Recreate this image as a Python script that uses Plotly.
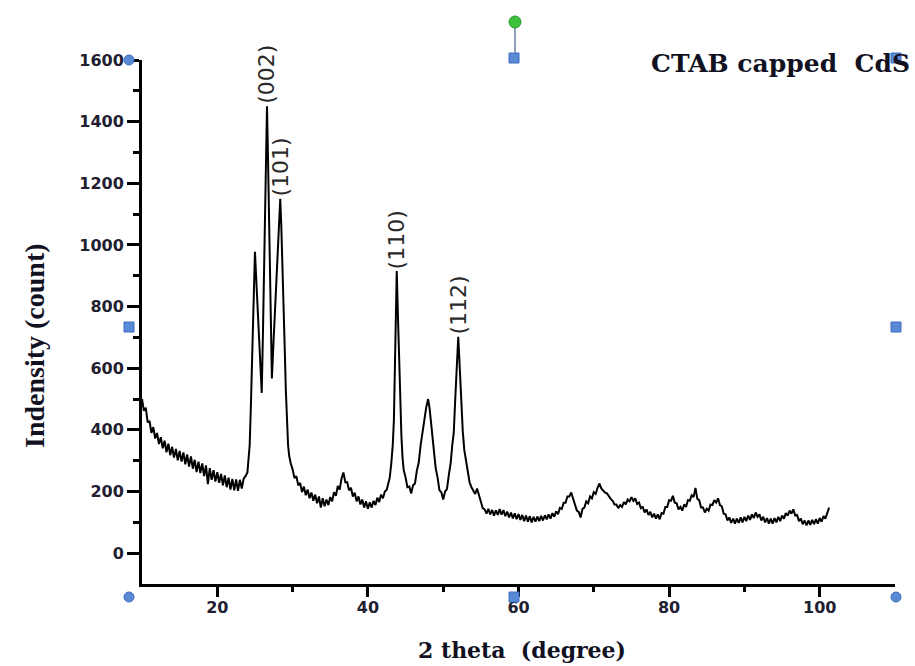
import plotly.graph_objects as go

theta_low = [10.0, 10.25, 10.5, 10.75, 11.0, 11.25, 11.5, 11.75, 12.0, 12.25,
             12.5, 12.75, 13.0, 13.25, 13.5, 13.75, 14.0, 14.25, 14.5, 14.75,
             15.0, 15.25, 15.5, 15.75, 16.0, 16.25, 16.5, 16.75, 17.0, 17.25,
             17.5, 17.75, 18.0, 18.25, 18.5, 18.75, 19.0, 19.25, 19.5, 19.75,
             20.0, 20.25, 20.5, 20.75, 21.0, 21.25, 21.5, 21.75, 22.0, 22.25,
             22.5, 22.75, 23.0, 23.25, 23.5, 23.75]
counts_low = [500, 462, 472, 424, 429, 390, 409, 372, 390, 354,
              376, 340, 365, 327, 355, 318, 345, 310, 338, 301,
              332, 297, 327, 288, 320, 281, 314, 274, 303, 263,
              297, 260, 291, 250, 285, 224, 276, 238, 269, 232,
              263, 228, 257, 220, 252, 214, 245, 206, 241, 204,
              239, 202, 238, 210, 242, 250]

theta_main = [24.0, 24.15, 24.3, 24.45, 24.6, 24.75, 24.9, 25.0, 25.15, 25.3,
              25.45, 25.6, 25.75, 25.9, 26.05, 26.2, 26.35, 26.5, 26.6, 26.75,
              26.9, 27.05, 27.15, 27.25, 27.4, 27.55, 27.7, 27.85, 28.0, 28.15,
              28.3, 28.36, 28.5, 28.65, 28.8, 28.95, 29.1, 29.25, 29.4, 29.55,
              29.7]
counts_main = [262, 300, 350, 470, 620, 780, 930, 978, 900, 820,
               745, 670, 595, 520, 700, 900, 1110, 1320, 1450, 1260,
               1050, 850, 700, 567, 650, 730, 810, 880, 950, 1040,
               1130, 1150, 1060, 950, 810, 670, 530, 420, 350, 315,
               295]

theta_mid = [29.75, 30.0, 30.25, 30.5, 30.75, 31.0, 31.25, 31.5, 31.75, 32.0,
             32.25, 32.5, 32.75, 33.0, 33.25, 33.5, 33.75, 34.0, 34.25, 34.5,
             34.75, 35.0, 35.25, 35.5, 35.75, 36.0, 36.25, 36.5, 36.75, 37.0,
             37.25, 37.5, 37.75, 38.0, 38.25, 38.5, 38.75, 39.0, 39.25, 39.5,
             39.75, 40.0, 40.25, 40.5, 40.75, 41.0, 41.25, 41.5, 41.75, 42.0,
             42.25, 42.5]
counts_mid = [292, 272, 244, 250, 220, 228, 198, 216, 188, 206,
              178, 197, 170, 190, 162, 184, 148, 178, 152, 174,
              156, 182, 168, 198, 186, 218, 206, 242, 262, 230,
              230, 204, 212, 184, 196, 168, 184, 158, 174, 148,
              168, 144, 165, 148, 170, 156, 180, 166, 190, 178,
              200, 206]

theta_110 = [42.7, 42.9, 43.1, 43.3, 43.45, 43.6, 43.83, 44.0, 44.15, 44.3,
             44.45, 44.6, 44.75]
counts_110 = [222, 245, 290, 350, 430, 620, 915, 760, 610, 480,
              380, 310, 270]

theta_hi = [45.0, 45.25, 45.5, 45.75, 46.0, 46.25, 46.5, 46.75, 47.0, 47.25,
            47.5, 47.75, 48.0, 48.2, 48.4, 48.6, 48.8, 49.0, 49.25, 49.5,
            49.75, 50.0, 50.25, 50.5, 50.75, 51.0, 51.2, 51.4, 51.6, 51.8,
            52.0, 52.2, 52.4, 52.6, 52.8, 53.0, 53.25, 53.5, 53.75, 54.0,
            54.25, 54.5, 54.75, 55.0, 55.25, 55.5, 55.75]
counts_hi = [246, 214, 216, 194, 220, 226, 268, 294, 350, 390,
             444, 474, 500, 468, 420, 368, 322, 276, 246, 204,
             198, 174, 200, 208, 254, 294, 350, 390, 500, 612,
             702, 600, 490, 395, 335, 300, 260, 230, 214, 202,
             192, 210, 186, 170, 146, 142, 128]

theta_tail = [56.0, 56.25, 56.5, 56.75, 57.0, 57.25, 57.5, 57.75,
              58.0, 58.25, 58.5, 58.75, 59.0, 59.25, 59.5, 59.75,
              60.0, 60.25, 60.5, 60.75, 61.0, 61.25, 61.5, 61.75,
              62.0, 62.25, 62.5, 62.75, 63.0, 63.25, 63.5, 63.75,
              64.0, 64.25, 64.5, 64.75, 65.0, 65.25, 65.5, 65.75,
              66.0, 66.25, 66.5, 66.75, 67.0, 67.25, 67.5, 67.75,
              68.0, 68.25, 68.5, 68.75, 69.0, 69.25, 69.5, 69.75,
              70.0, 70.25, 70.5, 70.75, 71.0, 71.25, 71.5, 71.75,
              72.0, 72.25, 72.5, 72.75, 73.0, 73.25, 73.5, 73.75,
              74.0, 74.25, 74.5, 74.75, 75.0, 75.25, 75.5, 75.75,
              76.0, 76.25, 76.5, 76.75, 77.0, 77.25, 77.5, 77.75,
              78.0, 78.25, 78.5, 78.75, 79.0, 79.25, 79.5, 79.75,
              80.0, 80.25, 80.5, 80.75, 81.0, 81.25, 81.5, 81.75,
              82.0, 82.25, 82.5, 82.75, 83.0, 83.25, 83.5, 83.75,
              84.0, 84.25, 84.5, 84.75, 85.0, 85.25, 85.5, 85.75,
              86.0, 86.25, 86.5, 86.75, 87.0, 87.25, 87.5, 87.75,
              88.0, 88.25, 88.5, 88.75, 89.0, 89.25, 89.5, 89.75,
              90.0, 90.25, 90.5, 90.75, 91.0, 91.25, 91.5, 91.75,
              92.0, 92.25, 92.5, 92.75, 93.0, 93.25, 93.5, 93.75,
              94.0, 94.25, 94.5, 94.75, 95.0, 95.25, 95.5, 95.75,
              96.0, 96.25, 96.5, 96.75, 97.0, 97.25, 97.5, 97.75,
              98.0, 98.25, 98.5, 98.75, 99.0, 99.25, 99.5, 99.75,
              100.0, 100.25, 100.5, 100.75, 101.0, 101.25]
counts_tail = [144, 126, 140, 122, 139, 124, 143, 125,
               140, 120, 135, 116, 132, 113, 129, 110,
               127, 108, 124, 104, 122, 102, 120, 100,
               118, 102, 119, 104, 121, 106, 123, 110,
               126, 112, 130, 118, 136, 126, 147, 144,
               164, 164, 184, 184, 197, 176, 162, 138,
               134, 116, 144, 148, 168, 162, 184, 178,
               198, 192, 212, 226, 210, 204, 196, 194,
               184, 176, 170, 158, 158, 146, 156, 150,
               166, 158, 174, 168, 182, 170, 178, 160,
               164, 146, 150, 132, 142, 124, 134, 116,
               128, 112, 126, 110, 130, 128, 150, 150,
               172, 170, 186, 164, 162, 142, 150, 138,
               158, 150, 172, 170, 188, 182, 212, 176,
               172, 148, 148, 132, 144, 138, 158, 156,
               172, 164, 178, 156, 152, 128, 126, 106,
               116, 98, 112, 96, 112, 98, 116, 100,
               118, 104, 122, 108, 126, 114, 132, 118,
               126, 106, 118, 100, 114, 96, 112, 96,
               114, 100, 118, 104, 122, 112, 130, 122,
               138, 128, 142, 122, 124, 104, 112, 94,
               106, 90, 106, 92, 108, 94, 110, 96,
               114, 102, 120, 112, 130, 148]

peak_labels = ["(002)", "(101)", "(110)", "(112)"]
peak_theta = [26.6, 28.36, 43.83, 52.0]
peak_counts = [1450, 1150, 915, 702]

x_ticks = [20, 40, 60, 80, 100]
x_minor = [30, 50, 70, 90]
y_ticks = [0, 200, 400, 600, 800, 1000, 1200, 1400, 1600]
y_minor = [100, 300, 500, 700, 900, 1100, 1300, 1500]

title_text = "CTAB capped  CdS"
x_title = "2 theta  (degree)"
y_title = "Indensity (count)"

two_theta = theta_low + theta_main + theta_mid + theta_110 + theta_hi + theta_tail
intensity = counts_low + counts_main + counts_mid + counts_110 + counts_hi + counts_tail

# ---------------- figure ----------------
W, H = 915, 666
ML, MR, MT, MB = 142, 20, 60, 82
PW, PH = W - ML - MR, H - MT - MB


def px(x):
    return (x - ML) / PW


def py(y):
    return (H - MB - y) / PH


fig = go.Figure()
fig.add_trace(go.Scatter(x=two_theta, y=intensity, mode="lines",
                         line=dict(color="black", width=2),
                         showlegend=False, hoverinfo="skip"))

tick_font = dict(family="DejaVu Sans", size=16, color="#202030", weight="bold")

fig.update_layout(
    width=W, height=H,
    margin=dict(l=ML, r=MR, t=MT, b=MB, pad=0),
    paper_bgcolor="white", plot_bgcolor="white",
    showlegend=False,
    xaxis=dict(range=[10, 110], tickmode="array", tickvals=x_ticks,
               showline=True, linecolor="black", linewidth=3,
               ticks="outside", ticklen=10, tickwidth=2.5, tickcolor="black",
               minor=dict(ticks="outside", ticklen=5, tickwidth=2.5, tickcolor="black",
                          tickmode="array", tickvals=x_minor),
               showgrid=False, zeroline=False, tickfont=tick_font,
               ticklabelstandoff=-3),
    yaxis=dict(range=[-100, 1600], tickmode="array", tickvals=y_ticks,
               showline=True, linecolor="black", linewidth=3,
               ticks="outside", ticklen=12, tickwidth=2.5, tickcolor="black",
               minor=dict(ticks="outside", ticklen=6, tickwidth=2.5, tickcolor="black",
                          tickmode="array", tickvals=y_minor),
               showgrid=False, zeroline=False, tickfont=tick_font,
               ticklabelstandoff=0),
)

annotations = []
for lab, xv, yv in zip(peak_labels, peak_theta, peak_counts):
    annotations.append(dict(x=xv, y=yv, xref="x", yref="y", text=lab,
                            textangle=-90, showarrow=False,
                            xanchor="center", yanchor="bottom", yshift=0,
                            font=dict(family="DejaVu Sans", size=22, color="#2a2a2a")))

annotations.append(dict(x=px(780), y=py(63), xref="paper", yref="paper",
                        text=title_text, showarrow=False,
                        xanchor="center", yanchor="middle",
                        font=dict(family="DejaVu Serif", size=25, color="#111122",
                                  weight="bold")))
annotations.append(dict(x=px(522), y=py(650), xref="paper", yref="paper",
                        text=x_title, showarrow=False,
                        xanchor="center", yanchor="middle",
                        font=dict(family="DejaVu Serif", size=22, color="#111122",
                                  weight="bold")))
annotations.append(dict(x=px(34), y=py(345), xref="paper", yref="paper",
                        text=y_title, showarrow=False, textangle=-90,
                        xanchor="center", yanchor="middle",
                        font=dict(family="Liberation Serif", size=28, color="#111122",
                                  weight="bold")))
fig.update_layout(annotations=annotations)

# selection handles seen in the reference picture (decoration)
handles = [(129, 60, "c"), (514, 58, "s"), (896, 58, "s"), (129, 327, "s"),
           (896, 327, "s"), (129, 597, "c"), (514, 597, "s"), (896, 597, "c")]
shapes = []
shapes.append(dict(type="line", xref="paper", yref="paper",
                   x0=px(515), x1=px(515), y0=py(27), y1=py(53),
                   line=dict(color="#6a7fa8", width=1.5), layer="above"))
for hx, hy, kind in handles:
    r = 5
    shapes.append(dict(type="circle" if kind == "c" else "rect",
                       xref="paper", yref="paper",
                       x0=px(hx - r), x1=px(hx + r), y0=py(hy + r), y1=py(hy - r),
                       fillcolor="#5a8ad6", line=dict(color="#3c6cc0", width=1),
                       layer="above"))
shapes.append(dict(type="circle", xref="paper", yref="paper",
                   x0=px(509), x1=px(521), y0=py(28), y1=py(16),
                   fillcolor="#3cc23c", line=dict(color="#2a9a2a", width=1),
                   layer="above"))
fig.update_layout(shapes=shapes)

fig.write_html("out.html",
               config={"displayModeBar": False},
               post_script="document.body.style.margin='0px';"
                           "document.body.style.overflow='hidden';")
